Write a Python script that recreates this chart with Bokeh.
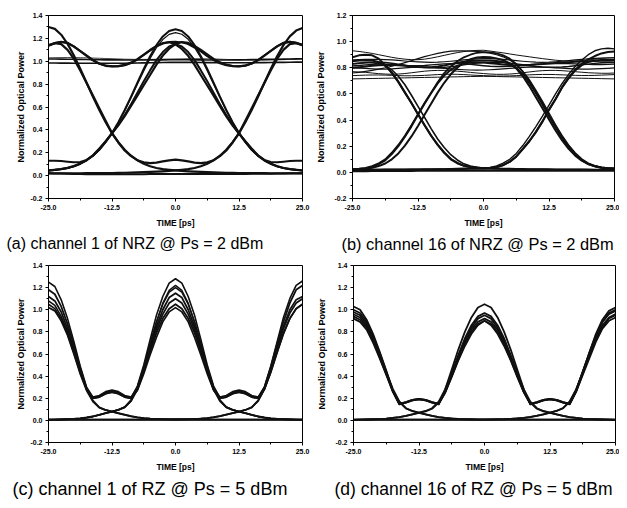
from bokeh.plotting import figure
from bokeh.models import FixedTicker, Title
from bokeh.layouts import column, row
from bokeh.embed import file_html
from bokeh.resources import INLINE

# ---------------- shared axes data ----------------
TIME_PS = [-25.0, -23.75, -22.5, -21.25, -20.0, -18.75, -17.5, -16.25, -15.0, -13.75,
           -12.5, -11.25, -10.0, -8.75, -7.5, -6.25, -5.0, -3.75, -2.5, -1.25,
           0.0, 1.25, 2.5, 3.75, 5.0, 6.25, 7.5, 8.75, 10.0, 11.25,
           12.5, 13.75, 15.0, 16.25, 17.5, 18.75, 20.0, 21.25, 22.5, 23.75,
           25.0]
X_TICKS = [-25.0, -12.5, 0.0, 12.5, 25.0]
X_TICK_LABELS = ["-25.0", "-12.5", "0.0", "12.5", "25.0"]
X_MINOR = [-18.75, -6.25, 6.25, 18.75]
Y_TICKS_14 = [-0.2, 0.0, 0.2, 0.4, 0.6, 0.8, 1.0, 1.2, 1.4]
Y_LABELS_14 = ["-0.2", "0.0", "0.2", "0.4", "0.6", "0.8", "1.0", "1.2", "1.4"]
Y_MINOR_14 = [-0.1, 0.1, 0.3, 0.5, 0.7, 0.9, 1.1, 1.3]
Y_TICKS_12 = [-0.2, 0.0, 0.2, 0.4, 0.6, 0.8, 1.0, 1.2]
Y_LABELS_12 = ["-0.2", "0.0", "0.2", "0.4", "0.6", "0.8", "1.0", "1.2"]
Y_MINOR_12 = [-0.1, 0.1, 0.3, 0.5, 0.7, 0.9, 1.1]
X_TITLE = "TIME [ps]"
Y_TITLE = "Normalized Optical Power"
CAPTIONS = ["(a) channel 1 of NRZ @ Ps = 2 dBm", "(b) channel 16 of NRZ @ Ps = 2 dBm",
            "(c) channel 1 of RZ @ Ps = 5 dBm", "(d) channel 16 of RZ @ Ps = 5 dBm"]

# ---------------- (a) NRZ channel 1 ----------------
A_000 = [0.020, 0.019, 0.018, 0.016, 0.015, 0.014, 0.013, 0.012, 0.012, 0.012,
         0.012, 0.012, 0.012, 0.013, 0.013, 0.013, 0.014, 0.014, 0.014, 0.015,
         0.015, 0.015, 0.015, 0.015, 0.014, 0.014, 0.014, 0.014, 0.014, 0.014,
         0.015, 0.015, 0.016, 0.016, 0.017, 0.017, 0.018, 0.019, 0.020, 0.020,
         0.021]
A_010 = [0.046, 0.051, 0.057, 0.067, 0.082, 0.104, 0.134, 0.174, 0.226, 0.292,
         0.372, 0.467, 0.574, 0.690, 0.812, 0.932, 1.044, 1.141, 1.217, 1.264,
         1.280, 1.264, 1.217, 1.141, 1.044, 0.932, 0.812, 0.690, 0.574, 0.467,
         0.372, 0.292, 0.226, 0.174, 0.134, 0.104, 0.082, 0.067, 0.057, 0.051,
         0.046]
A_010B = [0.040, 0.046, 0.053, 0.064, 0.080, 0.102, 0.132, 0.172, 0.224, 0.290,
          0.370, 0.462, 0.566, 0.680, 0.798, 0.915, 1.025, 1.118, 1.190, 1.235,
          1.250, 1.236, 1.192, 1.120, 1.028, 0.918, 0.800, 0.682, 0.568, 0.464,
          0.372, 0.292, 0.226, 0.174, 0.134, 0.104, 0.081, 0.065, 0.054, 0.047,
          0.042]
A_100 = [1.300, 1.283, 1.232, 1.152, 1.050, 0.935, 0.812, 0.690, 0.574, 0.467,
         0.372, 0.292, 0.226, 0.174, 0.134, 0.104, 0.082, 0.067, 0.057, 0.051,
         0.046, 0.042, 0.038, 0.035, 0.032, 0.030, 0.028, 0.026, 0.025, 0.024,
         0.023, 0.022, 0.022, 0.021, 0.021, 0.020, 0.020, 0.020, 0.020, 0.020,
         0.020]
A_001 = [0.020, 0.020, 0.020, 0.020, 0.020, 0.020, 0.021, 0.021, 0.022, 0.022,
         0.023, 0.024, 0.025, 0.026, 0.028, 0.030, 0.032, 0.035, 0.038, 0.042,
         0.046, 0.051, 0.057, 0.067, 0.082, 0.104, 0.134, 0.174, 0.226, 0.292,
         0.372, 0.467, 0.574, 0.690, 0.812, 0.932, 1.044, 1.141, 1.217, 1.268,
         1.290]
A_011 = [0.045, 0.050, 0.058, 0.068, 0.083, 0.105, 0.135, 0.175, 0.230, 0.300,
         0.370, 0.440, 0.520, 0.610, 0.700, 0.790, 0.880, 0.970, 1.050, 1.110,
         1.150, 1.168, 1.160, 1.135, 1.100, 1.060, 1.020, 0.990, 0.970, 0.958,
         0.956, 0.962, 0.980, 1.010, 1.050, 1.090, 1.130, 1.160, 1.170, 1.160,
         1.140]
A_110 = [1.135, 1.158, 1.168, 1.160, 1.128, 1.088, 1.048, 1.008, 0.978, 0.960,
         0.955, 0.957, 0.968, 0.988, 1.018, 1.058, 1.098, 1.133, 1.158, 1.166,
         1.148, 1.108, 1.048, 0.968, 0.878, 0.788, 0.698, 0.608, 0.518, 0.438,
         0.368, 0.298, 0.228, 0.173, 0.133, 0.103, 0.082, 0.067, 0.057, 0.050,
         0.045]
A_111 = [1.140, 1.160, 1.170, 1.160, 1.130, 1.090, 1.050, 1.010, 0.980, 0.962,
         0.956, 0.957, 0.965, 0.985, 1.015, 1.055, 1.095, 1.130, 1.155, 1.168,
         1.170, 1.165, 1.150, 1.120, 1.085, 1.045, 1.010, 0.982, 0.965, 0.958,
         0.957, 0.962, 0.980, 1.010, 1.050, 1.090, 1.130, 1.160, 1.170, 1.162,
         1.145]
A_FLAT1 = [1.020, 1.020, 1.019, 1.018, 1.017, 1.016, 1.015, 1.014, 1.013, 1.012,
           1.012, 1.012, 1.011, 1.011, 1.011, 1.011, 1.012, 1.012, 1.012, 1.013,
           1.013, 1.013, 1.013, 1.012, 1.012, 1.011, 1.011, 1.011, 1.011, 1.012,
           1.012, 1.013, 1.014, 1.015, 1.016, 1.017, 1.018, 1.019, 1.020, 1.021,
           1.022]
A_FLAT2 = [0.985, 0.985, 0.984, 0.984, 0.983, 0.983, 0.982, 0.982, 0.982, 0.982,
           0.982, 0.983, 0.983, 0.984, 0.985, 0.986, 0.987, 0.988, 0.989, 0.990,
           0.990, 0.990, 0.990, 0.990, 0.989, 0.988, 0.988, 0.987, 0.987, 0.987,
           0.987, 0.987, 0.987, 0.988, 0.988, 0.989, 0.990, 0.990, 0.991, 0.992,
           0.992]
A_FLAT3 = [1.030, 1.031, 1.032, 1.032, 1.032, 1.031, 1.030, 1.028, 1.026, 1.024,
           1.022, 1.020, 1.018, 1.017, 1.016, 1.016, 1.016, 1.017, 1.018, 1.019,
           1.020, 1.021, 1.022, 1.022, 1.022, 1.021, 1.020, 1.018, 1.016, 1.014,
           1.012, 1.011, 1.010, 1.010, 1.010, 1.011, 1.012, 1.014, 1.016, 1.018,
           1.020]
A_101 = [1.140, 1.158, 1.150, 1.100, 1.020, 0.920, 0.810, 0.700, 0.590, 0.480,
         0.370, 0.290, 0.220, 0.170, 0.135, 0.116, 0.110, 0.114, 0.124, 0.134,
         0.140, 0.134, 0.124, 0.114, 0.110, 0.116, 0.135, 0.170, 0.220, 0.290,
         0.370, 0.480, 0.590, 0.700, 0.810, 0.920, 1.020, 1.100, 1.150, 1.158,
         1.140]
A_B1B = [0.130, 0.131, 0.128, 0.122, 0.117, 0.120, 0.138, 0.178, 0.238, 0.302,
         0.370, 0.445, 0.530, 0.625, 0.725, 0.825, 0.920, 1.010, 1.080, 1.130,
         1.150, 1.130, 1.080, 1.010, 0.920, 0.825, 0.725, 0.625, 0.530, 0.445,
         0.370, 0.302, 0.238, 0.178, 0.138, 0.120, 0.117, 0.122, 0.128, 0.131,
         0.130]

# ---------------- (b) NRZ channel 16 ----------------
B_000 = [0.010, 0.010, 0.010, 0.011, 0.011, 0.011, 0.012, 0.012, 0.012, 0.012,
         0.013, 0.013, 0.013, 0.013, 0.013, 0.013, 0.013, 0.013, 0.013, 0.013,
         0.013, 0.013, 0.013, 0.013, 0.013, 0.013, 0.013, 0.013, 0.013, 0.013,
         0.013, 0.013, 0.013, 0.013, 0.013, 0.013, 0.013, 0.013, 0.013, 0.013,
         0.013]
B_100 = [0.880, 0.895, 0.900, 0.895, 0.870, 0.820, 0.760, 0.690, 0.610, 0.530,
         0.445, 0.360, 0.280, 0.210, 0.150, 0.100, 0.070, 0.050, 0.040, 0.035,
         0.032, 0.030, 0.029, 0.028, 0.027, 0.026, 0.025, 0.024, 0.024, 0.023,
         0.023, 0.022, 0.022, 0.022, 0.021, 0.021, 0.021, 0.020, 0.020, 0.020,
         0.020]
B_100B = [0.830, 0.835, 0.838, 0.838, 0.832, 0.815, 0.785, 0.735, 0.670, 0.590,
          0.505, 0.420, 0.335, 0.255, 0.190, 0.135, 0.095, 0.065, 0.048, 0.038,
          0.033, 0.030, 0.028, 0.027, 0.026, 0.025, 0.024, 0.024, 0.023, 0.023,
          0.022, 0.022, 0.022, 0.021, 0.021, 0.021, 0.020, 0.020, 0.020, 0.020,
          0.020]
B_101 = [0.850, 0.855, 0.858, 0.855, 0.845, 0.815, 0.765, 0.695, 0.612, 0.530,
         0.445, 0.362, 0.282, 0.212, 0.152, 0.104, 0.072, 0.052, 0.040, 0.034,
         0.031, 0.033, 0.040, 0.055, 0.080, 0.120, 0.180, 0.240, 0.310, 0.390,
         0.480, 0.560, 0.650, 0.720, 0.780, 0.820, 0.845, 0.855, 0.860, 0.860,
         0.860]
B_001 = [0.020, 0.020, 0.020, 0.020, 0.020, 0.021, 0.021, 0.021, 0.022, 0.022,
         0.022, 0.023, 0.023, 0.024, 0.024, 0.025, 0.025, 0.026, 0.027, 0.028,
         0.030, 0.034, 0.041, 0.056, 0.082, 0.122, 0.178, 0.238, 0.308, 0.388,
         0.478, 0.562, 0.652, 0.725, 0.785, 0.830, 0.865, 0.890, 0.910, 0.920,
         0.925]
B_001B = [0.022, 0.022, 0.022, 0.022, 0.022, 0.022, 0.023, 0.023, 0.023, 0.024,
          0.024, 0.025, 0.025, 0.026, 0.027, 0.028, 0.029, 0.031, 0.034, 0.040,
          0.032, 0.038, 0.050, 0.070, 0.100, 0.145, 0.205, 0.275, 0.350, 0.430,
          0.515, 0.600, 0.680, 0.750, 0.810, 0.860, 0.900, 0.930, 0.945, 0.950,
          0.945]
B_010 = [0.025, 0.028, 0.035, 0.048, 0.070, 0.100, 0.150, 0.210, 0.280, 0.360,
         0.445, 0.530, 0.610, 0.690, 0.760, 0.810, 0.850, 0.880, 0.900, 0.915,
         0.920, 0.918, 0.910, 0.895, 0.870, 0.830, 0.770, 0.700, 0.615, 0.530,
         0.435, 0.350, 0.270, 0.200, 0.140, 0.095, 0.065, 0.048, 0.038, 0.033,
         0.030]
B_010B = [0.022, 0.024, 0.028, 0.035, 0.048, 0.068, 0.100, 0.145, 0.205, 0.275,
          0.355, 0.440, 0.525, 0.610, 0.685, 0.750, 0.800, 0.840, 0.865, 0.878,
          0.882, 0.880, 0.872, 0.858, 0.835, 0.795, 0.735, 0.660, 0.575, 0.490,
          0.405, 0.320, 0.245, 0.180, 0.128, 0.090, 0.063, 0.046, 0.036, 0.031,
          0.028]
B_011 = [0.022, 0.025, 0.030, 0.042, 0.062, 0.092, 0.140, 0.200, 0.272, 0.352,
         0.440, 0.525, 0.605, 0.680, 0.740, 0.785, 0.815, 0.832, 0.840, 0.842,
         0.840, 0.835, 0.830, 0.826, 0.822, 0.820, 0.820, 0.822, 0.825, 0.828,
         0.832, 0.836, 0.840, 0.843, 0.846, 0.848, 0.850, 0.852, 0.853, 0.854,
         0.855]
B_110 = [0.800, 0.805, 0.810, 0.815, 0.820, 0.822, 0.822, 0.820, 0.815, 0.810,
         0.806, 0.804, 0.805, 0.810, 0.818, 0.828, 0.838, 0.846, 0.852, 0.855,
         0.856, 0.855, 0.852, 0.845, 0.830, 0.800, 0.750, 0.685, 0.605, 0.520,
         0.432, 0.345, 0.265, 0.195, 0.138, 0.094, 0.064, 0.046, 0.036, 0.031,
         0.028]
B_110B = [0.760, 0.765, 0.772, 0.780, 0.790, 0.800, 0.812, 0.825, 0.840, 0.855,
          0.870, 0.885, 0.898, 0.910, 0.920, 0.927, 0.930, 0.930, 0.928, 0.925,
          0.920, 0.912, 0.900, 0.884, 0.860, 0.825, 0.775, 0.710, 0.630, 0.545,
          0.455, 0.365, 0.283, 0.210, 0.150, 0.104, 0.072, 0.052, 0.040, 0.034,
          0.030]
B_P1 = [0.715, 0.716, 0.717, 0.718, 0.719, 0.720, 0.721, 0.722, 0.723, 0.724,
        0.725, 0.726, 0.727, 0.728, 0.729, 0.730, 0.731, 0.732, 0.733, 0.734,
        0.735, 0.734, 0.733, 0.732, 0.731, 0.730, 0.729, 0.728, 0.727, 0.726,
        0.725, 0.724, 0.723, 0.722, 0.721, 0.720, 0.719, 0.718, 0.717, 0.716,
        0.715]
B_P2 = [0.770, 0.768, 0.765, 0.760, 0.755, 0.752, 0.750, 0.752, 0.756, 0.762,
        0.768, 0.774, 0.778, 0.780, 0.780, 0.778, 0.774, 0.770, 0.765, 0.760,
        0.756, 0.752, 0.750, 0.750, 0.752, 0.756, 0.762, 0.768, 0.774, 0.778,
        0.780, 0.780, 0.778, 0.774, 0.770, 0.766, 0.762, 0.760, 0.758, 0.758,
        0.760]
B_P3 = [0.800, 0.798, 0.795, 0.792, 0.790, 0.790, 0.792, 0.796, 0.800, 0.803,
        0.805, 0.805, 0.803, 0.800, 0.796, 0.792, 0.788, 0.785, 0.783, 0.782,
        0.783, 0.785, 0.788, 0.792, 0.796, 0.800, 0.803, 0.805, 0.806, 0.805,
        0.803, 0.800, 0.797, 0.794, 0.792, 0.790, 0.790, 0.791, 0.793, 0.796,
        0.800]
B_P4 = [0.830, 0.835, 0.840, 0.843, 0.843, 0.840, 0.835, 0.828, 0.820, 0.812,
        0.806, 0.802, 0.800, 0.800, 0.803, 0.808, 0.815, 0.822, 0.830, 0.836,
        0.840, 0.842, 0.842, 0.840, 0.836, 0.830, 0.823, 0.816, 0.810, 0.806,
        0.804, 0.804, 0.806, 0.810, 0.816, 0.822, 0.828, 0.834, 0.838, 0.840,
        0.840]
B_P5 = [0.860, 0.862, 0.864, 0.865, 0.865, 0.863, 0.860, 0.856, 0.852, 0.848,
        0.845, 0.843, 0.842, 0.843, 0.846, 0.850, 0.855, 0.860, 0.865, 0.868,
        0.870, 0.870, 0.868, 0.865, 0.860, 0.855, 0.850, 0.846, 0.843, 0.842,
        0.843, 0.846, 0.850, 0.855, 0.860, 0.865, 0.869, 0.872, 0.874, 0.875,
        0.875]
B_P6 = [0.930, 0.925, 0.918, 0.910, 0.900, 0.890, 0.880, 0.872, 0.866, 0.862,
        0.862, 0.866, 0.874, 0.884, 0.895, 0.906, 0.916, 0.924, 0.930, 0.933,
        0.934, 0.928, 0.921, 0.914, 0.906, 0.898, 0.891, 0.884, 0.877, 0.870,
        0.864, 0.858, 0.854, 0.852, 0.852, 0.855, 0.860, 0.866, 0.872, 0.876,
        0.878]
B_P7 = [0.740, 0.742, 0.744, 0.745, 0.745, 0.744, 0.742, 0.740, 0.739, 0.739,
        0.740, 0.742, 0.745, 0.748, 0.750, 0.751, 0.750, 0.748, 0.745, 0.742,
        0.740, 0.738, 0.737, 0.737, 0.738, 0.740, 0.743, 0.746, 0.748, 0.749,
        0.749, 0.748, 0.746, 0.744, 0.742, 0.741, 0.741, 0.742, 0.744, 0.746,
        0.748]
B_P8 = [0.815, 0.818, 0.822, 0.826, 0.828, 0.828, 0.826, 0.822, 0.818, 0.816,
        0.816, 0.818, 0.822, 0.826, 0.830, 0.832, 0.832, 0.830, 0.826, 0.821,
        0.816, 0.812, 0.810, 0.810, 0.812, 0.815, 0.819, 0.823, 0.827, 0.830,
        0.832, 0.833, 0.833, 0.832, 0.830, 0.828, 0.826, 0.825, 0.825, 0.826,
        0.828]

# ---------------- (c) RZ channel 1 ----------------
C_000 = [0.006, 0.006, 0.006, 0.006, 0.006, 0.006, 0.006, 0.006, 0.006, 0.006,
         0.006, 0.006, 0.006, 0.006, 0.006, 0.006, 0.006, 0.006, 0.006, 0.006,
         0.006, 0.006, 0.006, 0.006, 0.006, 0.006, 0.006, 0.006, 0.006, 0.006,
         0.006, 0.006, 0.006, 0.006, 0.006, 0.006, 0.006, 0.006, 0.006, 0.006,
         0.006]
C_111 = [1.25, 1.21, 1.09, 0.92, 0.71, 0.49, 0.30, 0.21, 0.225, 0.26,
         0.275, 0.26, 0.225, 0.21, 0.30, 0.48, 0.69, 0.89, 1.05, 1.16,
         1.20, 1.16, 1.05, 0.89, 0.69, 0.48, 0.30, 0.21, 0.225, 0.26,
         0.275, 0.26, 0.225, 0.21, 0.30, 0.49, 0.71, 0.93, 1.10, 1.22,
         1.26]
C_111B = [1.08, 1.04, 0.94, 0.80, 0.62, 0.44, 0.28, 0.20, 0.21, 0.24,
          0.255, 0.24, 0.21, 0.20, 0.31, 0.50, 0.73, 0.95, 1.12, 1.24,
          1.28, 1.24, 1.12, 0.95, 0.73, 0.50, 0.31, 0.20, 0.21, 0.24,
          0.255, 0.24, 0.21, 0.20, 0.29, 0.46, 0.66, 0.85, 1.00, 1.09,
          1.12]
C_111C = [1.05, 1.01, 0.92, 0.78, 0.61, 0.43, 0.28, 0.20, 0.21, 0.24,
          0.255, 0.24, 0.21, 0.20, 0.27, 0.42, 0.59, 0.75, 0.89, 0.98,
          1.02, 0.98, 0.89, 0.75, 0.59, 0.42, 0.27, 0.20, 0.21, 0.24,
          0.255, 0.24, 0.21, 0.20, 0.28, 0.43, 0.61, 0.78, 0.92, 1.01,
          1.05]
C_110 = [1.18, 1.14, 1.03, 0.87, 0.68, 0.47, 0.29, 0.20, 0.215, 0.25,
         0.265, 0.25, 0.215, 0.20, 0.28, 0.45, 0.64, 0.82, 0.96, 1.06,
         1.10, 1.06, 0.96, 0.82, 0.64, 0.45, 0.28, 0.175, 0.118, 0.094,
         0.080, 0.065, 0.050, 0.036, 0.026, 0.019, 0.014, 0.011, 0.009, 0.007,
         0.006]
C_011 = [0.006, 0.007, 0.009, 0.011, 0.014, 0.019, 0.026, 0.036, 0.050, 0.065,
         0.080, 0.094, 0.118, 0.175, 0.28, 0.44, 0.62, 0.79, 0.92, 1.01,
         1.05, 1.01, 0.92, 0.79, 0.62, 0.44, 0.28, 0.20, 0.215, 0.25,
         0.265, 0.25, 0.215, 0.20, 0.30, 0.48, 0.69, 0.89, 1.06, 1.18,
         1.22]
C_010 = [0.005, 0.006, 0.008, 0.010, 0.013, 0.018, 0.025, 0.035, 0.050, 0.065,
         0.080, 0.095, 0.120, 0.180, 0.290, 0.460, 0.660, 0.850, 1.000, 1.110,
         1.150, 1.110, 1.000, 0.850, 0.660, 0.460, 0.290, 0.180, 0.120, 0.095,
         0.080, 0.065, 0.050, 0.035, 0.025, 0.018, 0.013, 0.010, 0.008, 0.006,
         0.005]
C_010B = [0.005, 0.006, 0.008, 0.010, 0.013, 0.018, 0.025, 0.035, 0.050, 0.065,
          0.080, 0.096, 0.122, 0.185, 0.300, 0.480, 0.690, 0.890, 1.060, 1.175,
          1.220, 1.175, 1.060, 0.890, 0.690, 0.480, 0.300, 0.185, 0.122, 0.096,
          0.080, 0.065, 0.050, 0.035, 0.025, 0.018, 0.013, 0.010, 0.008, 0.006,
          0.005]
C_101 = [1.12, 1.08, 0.98, 0.83, 0.65, 0.45, 0.285, 0.178, 0.118, 0.094,
         0.080, 0.066, 0.052, 0.038, 0.028, 0.021, 0.016, 0.013, 0.011, 0.010,
         0.010, 0.010, 0.011, 0.013, 0.016, 0.021, 0.028, 0.038, 0.052, 0.066,
         0.080, 0.094, 0.118, 0.175, 0.28, 0.44, 0.62, 0.79, 0.92, 1.01,
         1.05]
C_100 = [1.02, 0.99, 0.90, 0.77, 0.60, 0.42, 0.27, 0.17, 0.115, 0.092,
         0.078, 0.064, 0.050, 0.037, 0.027, 0.020, 0.015, 0.012, 0.010, 0.009,
         0.008, 0.008, 0.007, 0.007, 0.007, 0.006, 0.006, 0.006, 0.006, 0.006,
         0.006, 0.006, 0.006, 0.006, 0.006, 0.006, 0.006, 0.006, 0.006, 0.006,
         0.006]
C_001 = [0.006, 0.006, 0.006, 0.006, 0.006, 0.006, 0.006, 0.006, 0.006, 0.006,
         0.006, 0.006, 0.006, 0.006, 0.006, 0.006, 0.006, 0.006, 0.006, 0.007,
         0.008, 0.009, 0.010, 0.012, 0.016, 0.021, 0.029, 0.039, 0.052, 0.066,
         0.080, 0.094, 0.118, 0.178, 0.285, 0.45, 0.65, 0.83, 0.97, 1.06,
         1.10]

# ---------------- (d) RZ channel 16 ----------------
D_000 = [0.006, 0.006, 0.006, 0.006, 0.006, 0.006, 0.006, 0.006, 0.006, 0.006,
         0.006, 0.006, 0.006, 0.006, 0.006, 0.006, 0.006, 0.006, 0.006, 0.006,
         0.006, 0.006, 0.006, 0.006, 0.006, 0.006, 0.006, 0.006, 0.006, 0.006,
         0.006, 0.006, 0.006, 0.006, 0.006, 0.006, 0.006, 0.006, 0.006, 0.006,
         0.006]
D_111 = [1.03, 1.00, 0.91, 0.78, 0.62, 0.45, 0.27, 0.15, 0.165, 0.185,
         0.195, 0.185, 0.165, 0.15, 0.26, 0.42, 0.58, 0.73, 0.84, 0.92,
         0.95, 0.92, 0.84, 0.73, 0.58, 0.42, 0.26, 0.15, 0.165, 0.185,
         0.195, 0.185, 0.165, 0.15, 0.27, 0.44, 0.61, 0.77, 0.89, 0.97,
         1.00]
D_111B = [0.92, 0.89, 0.82, 0.70, 0.56, 0.41, 0.26, 0.145, 0.16, 0.18,
          0.19, 0.18, 0.16, 0.145, 0.28, 0.46, 0.64, 0.80, 0.93, 1.02,
          1.05, 1.02, 0.93, 0.80, 0.64, 0.46, 0.28, 0.145, 0.16, 0.18,
          0.19, 0.18, 0.16, 0.145, 0.26, 0.41, 0.56, 0.71, 0.83, 0.90,
          0.93]
D_111C = [0.96, 0.93, 0.85, 0.73, 0.58, 0.42, 0.26, 0.145, 0.16, 0.18,
          0.19, 0.18, 0.16, 0.145, 0.25, 0.39, 0.54, 0.67, 0.78, 0.86,
          0.90, 0.86, 0.78, 0.67, 0.54, 0.39, 0.25, 0.145, 0.16, 0.18,
          0.19, 0.18, 0.16, 0.145, 0.26, 0.42, 0.58, 0.72, 0.84, 0.92,
          0.95]
D_110 = [0.98, 0.95, 0.87, 0.75, 0.60, 0.44, 0.27, 0.15, 0.165, 0.185,
         0.195, 0.185, 0.165, 0.15, 0.25, 0.40, 0.55, 0.69, 0.80, 0.87,
         0.90, 0.87, 0.80, 0.69, 0.55, 0.40, 0.26, 0.16, 0.105, 0.082,
         0.068, 0.054, 0.040, 0.030, 0.022, 0.016, 0.012, 0.010, 0.008, 0.006,
         0.005]
D_011 = [0.005, 0.006, 0.008, 0.010, 0.012, 0.016, 0.022, 0.030, 0.040, 0.054,
         0.068, 0.082, 0.105, 0.16, 0.26, 0.41, 0.56, 0.71, 0.82, 0.89,
         0.92, 0.89, 0.82, 0.71, 0.56, 0.41, 0.26, 0.15, 0.165, 0.185,
         0.195, 0.185, 0.165, 0.15, 0.27, 0.44, 0.61, 0.78, 0.91, 0.99,
         1.02]
D_010 = [0.005, 0.006, 0.008, 0.010, 0.012, 0.016, 0.022, 0.030, 0.040, 0.055,
         0.070, 0.085, 0.110, 0.170, 0.280, 0.430, 0.590, 0.740, 0.860, 0.940,
         0.970, 0.940, 0.860, 0.740, 0.590, 0.430, 0.280, 0.170, 0.110, 0.085,
         0.070, 0.055, 0.040, 0.030, 0.022, 0.016, 0.012, 0.010, 0.008, 0.006,
         0.005]
D_101 = [1.00, 0.97, 0.89, 0.76, 0.61, 0.44, 0.285, 0.172, 0.110, 0.085,
         0.070, 0.055, 0.040, 0.030, 0.022, 0.017, 0.013, 0.011, 0.010, 0.009,
         0.009, 0.009, 0.010, 0.011, 0.013, 0.017, 0.022, 0.030, 0.040, 0.055,
         0.070, 0.085, 0.110, 0.170, 0.280, 0.430, 0.590, 0.740, 0.860, 0.930,
         0.960]
D_100 = [0.94, 0.91, 0.84, 0.72, 0.57, 0.42, 0.27, 0.165, 0.108, 0.083,
         0.068, 0.054, 0.040, 0.030, 0.022, 0.016, 0.012, 0.010, 0.008, 0.007,
         0.007, 0.006, 0.006, 0.006, 0.006, 0.006, 0.006, 0.006, 0.006, 0.006,
         0.006, 0.006, 0.006, 0.006, 0.006, 0.006, 0.006, 0.006, 0.006, 0.006,
         0.006]
D_001 = [0.006, 0.006, 0.006, 0.006, 0.006, 0.006, 0.006, 0.006, 0.006, 0.006,
         0.006, 0.006, 0.006, 0.006, 0.006, 0.006, 0.006, 0.006, 0.006, 0.007,
         0.007, 0.008, 0.009, 0.010, 0.013, 0.017, 0.023, 0.031, 0.042, 0.055,
         0.070, 0.086, 0.110, 0.170, 0.280, 0.440, 0.600, 0.760, 0.890, 0.960,
         0.990]

FONT = "Liberation Sans"


def make_panel(w, h, bl, br, bt, bb, yr, yticks, ylabels, yminor, traces,
               caption, cap_offset, cap_size, ylab_standoff):
    p = figure(width=w, height=h, x_range=(-25, 25), y_range=yr,
               output_backend="svg", toolbar_location=None,
               min_border_left=bl, min_border_right=br,
               min_border_top=bt, min_border_bottom=bb)
    p.background_fill_color = "white"
    p.border_fill_color = "white"
    p.outline_line_color = "black"
    p.outline_line_width = 1
    p.xgrid.grid_line_color = None
    p.ygrid.grid_line_color = None
    for ys, lw, dash in traces:
        if len(ys) != len(TIME_PS):
            raise ValueError("bad length %d" % len(ys))
        p.line(TIME_PS, ys, line_color="#101010", line_width=lw, line_dash=dash,
               line_join="round")
    xa = p.xaxis[0]
    xa.ticker = FixedTicker(ticks=X_TICKS, minor_ticks=X_MINOR)
    xa.major_label_overrides = dict(zip(X_TICKS, X_TICK_LABELS))
    ya = p.yaxis[0]
    ya.ticker = FixedTicker(ticks=yticks, minor_ticks=yminor)
    ya.major_label_overrides = dict(zip(yticks, ylabels))
    for ax in (xa, ya):
        ax.axis_line_color = "black"
        ax.major_tick_line_color = "black"
        ax.minor_tick_line_color = "black"
        ax.major_tick_out = 3
        ax.major_tick_in = 0
        ax.minor_tick_out = 2
        ax.minor_tick_in = 0
        ax.major_label_text_font = FONT
        ax.major_label_text_font_style = "bold"
        ax.major_label_text_font_size = "7px"
        ax.major_label_text_color = "black"
        ax.axis_label_text_font = FONT
        ax.axis_label_text_font_style = "bold"
        ax.axis_label_text_color = "black"
        ax.major_label_standoff = 3
    xa.axis_label = X_TITLE
    xa.axis_label_text_font_size = "8.5px"
    xa.axis_label_standoff = 5
    ya.axis_label = Y_TITLE
    ya.axis_label_text_font_size = "9px"
    ya.axis_label_standoff = ylab_standoff
    t = Title(text=caption, align="left", offset=cap_offset, standoff=4,
              text_font=FONT, text_font_size=cap_size, text_font_style="normal",
              text_color="black")
    p.add_layout(t, "below")
    return p


pa = make_panel(313, 254, 48, 11, 15, 52, (-0.2, 1.4), Y_TICKS_14, Y_LABELS_14, Y_MINOR_14,
                [(A_000, 2.0, "solid"), (A_FLAT1, 1.6, "solid"), (A_FLAT2, 1.6, "solid"),
                 (A_FLAT3, 0.8, "solid"), (A_111, 2.0, "solid"), (A_110, 2.2, "solid"),
                 (A_011, 2.2, "solid"), (A_010, 2.0, "solid"), (A_010B, 1.2, "solid"),
                 (A_100, 2.2, "solid"), (A_001, 2.2, "solid"), (A_101, 2.2, "solid"),
                 (A_B1B, 2.0, "solid")],
                CAPTIONS[0], -42, "16px", 1)

pb = make_panel(306, 254, 38, 5, 15, 52, (-0.2, 1.2), Y_TICKS_12, Y_LABELS_12, Y_MINOR_12,
                [(B_000, 2.2, "solid"), (B_P1, 1.0, "solid"), (B_P2, 1.0, "solid"),
                 (B_P3, 1.2, "solid"), (B_P4, 1.4, "solid"), (B_P5, 1.2, "solid"),
                 (B_P6, 1.0, "solid"), (B_P7, 1.0, "solid"), (B_P8, 1.4, "solid"),
                 (B_100, 2.0, "solid"), (B_100B, 1.6, "solid"), (B_101, 2.0, "solid"),
                 (B_001, 2.0, "solid"), (B_001B, 1.4, "solid"), (B_010, 1.8, "solid"),
                 (B_010B, 2.0, "solid"), (B_011, 2.0, "solid"), (B_110, 2.0, "solid"),
                 (B_110B, 1.2, "solid")],
                CAPTIONS[1], -11, "16.4px", 5)

pc = make_panel(313, 246, 48, 11, 11, 48, (-0.2, 1.4), Y_TICKS_14, Y_LABELS_14, Y_MINOR_14,
                [(C_000, 2.0, "solid"), (C_111, 1.6, "solid"), (C_111B, 1.6, "solid"),
                 (C_111C, 1.6, "solid"), (C_110, 1.8, "solid"), (C_011, 1.8, "solid"),
                 (C_010, 1.8, "solid"), (C_010B, 1.4, "solid"), (C_101, 1.8, "solid"),
                 (C_100, 1.8, "solid"), (C_001, 1.8, "solid")],
                CAPTIONS[2], -36, "18px", 1)

pd = make_panel(306, 246, 40, 4, 11, 48, (-0.2, 1.4), Y_TICKS_14, Y_LABELS_14, Y_MINOR_14,
                [(D_000, 2.0, "solid"), (D_111, 1.8, "solid"), (D_111B, 1.8, "solid"),
                 (D_111C, 1.6, "solid"), (D_110, 1.8, "solid"), (D_011, 1.8, "solid"),
                 (D_010, 1.8, "solid"), (D_101, 1.8, "solid"), (D_100, 1.8, "solid"),
                 (D_001, 1.8, "solid")],
                CAPTIONS[3], -19, "17.5px", 5)

layout = column(row(pa, pb), row(pc, pd))
open("out.html", "w").write(file_html(layout, INLINE))
